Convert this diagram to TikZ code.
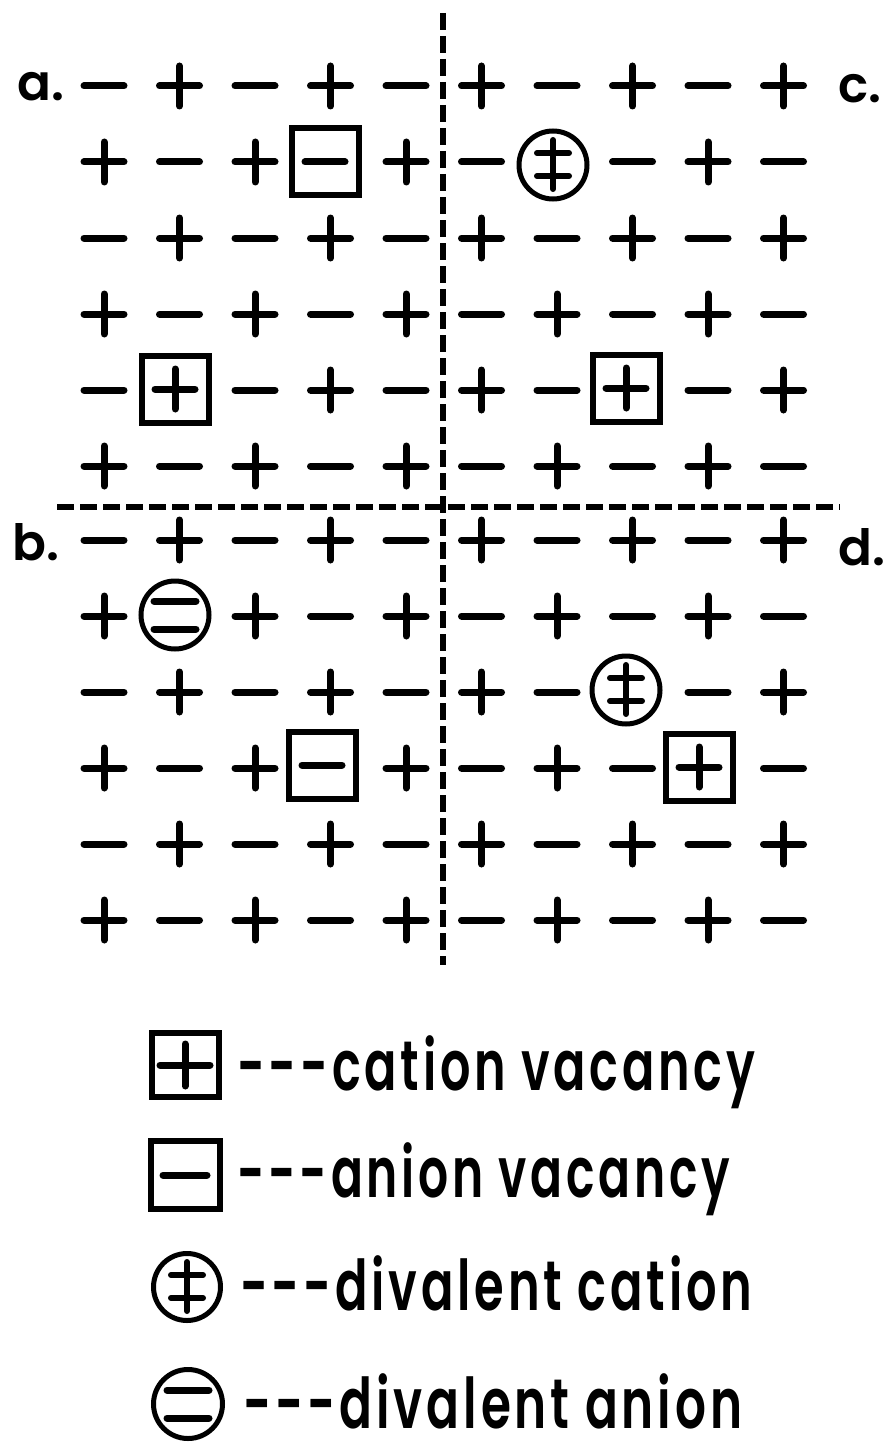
\documentclass[tikz,border=0pt]{standalone}
\usepackage{fontspec}
\setmainfont{Poppins}
\newfontfamily\legfont{Poppins}[UprightFont={* SemiBold}, LetterSpace=8]
\newfontfamily\labfont{Poppins}[UprightFont={* SemiBold}]
\usepackage{graphicx}
\tikzset{
  sign/.style={line width=7pt, line cap=round},
  plussign/.pic={\draw[sign] (-20,0) -- (20,0) (0,-20) -- (0,20);},
  minussign/.pic={\draw[sign] (-20,0) -- (20,0);},
  bigplus/.pic={\draw[sign] (-25,0) -- (25,0) (0,-21) -- (0,21);},
  bigminus/.pic={\draw[sign] (-22,0) -- (22,0);},
  dcation/.pic={\draw[sign, line width=6pt] (-16,-12) -- (16,-12) (-16,11) -- (16,11) (0,-25) -- (0,24);},
  danion/.pic={\draw[sign] (-21,-14) -- (21,-14) (-21,14) -- (21,14);},
  vacbox/.style={draw, rectangle, line width=6pt, minimum width=67pt, minimum height=67pt, inner sep=0pt},
  divcirc/.style={draw, circle, line width=5pt, minimum size=68pt, inner sep=0pt},
  divider/.style={line width=6pt, dash pattern=on 17pt off 6pt},
  lab/.style={anchor=base west, inner sep=0pt, font=\labfont\fontsize{50}{50}\selectfont},
  legtext/.style={anchor=base west, inner sep=0pt},
}
\newcommand\legline[2]{\resizebox{#1}{\height}{\legfont\fontsize{70}{70}\selectfont #2}}
\begin{document}
\begin{tikzpicture}[x=1pt, y=-1pt]
\useasboundingbox (0,0) rectangle (887,1442);
% lattice
\foreach \r in {0,...,11}{
  \foreach \c in {0,...,9}{
    \pgfmathsetmacro\xx{104+75.5*\c}
    \pgfmathsetmacro\yy{\r<6 ? 86+76*\r : 540+76*(\r-6)}
    \pgfmathtruncatemacro\kk{\r*10+\c}
    \pgfmathtruncatemacro\isdef{(\kk==13)||(\kk==41)||(\kk==16)||(\kk==47)||(\kk==71)||(\kk==93)||(\kk==87)||(\kk==98)}
    \pgfmathtruncatemacro\odd{mod(\r+\c,2)}
    \ifnum\isdef=0
      \ifnum\odd=1 \pic at (\xx,\yy) {plussign}; \else \pic at (\xx,\yy) {minussign}; \fi
    \fi
  }
}
% dividers
\coordinate (vtop) at (443,13);
\coordinate (vbot) at (443,965);
\coordinate (hl) at (57,507);
\coordinate (hr) at (840,507);
\draw[divider] (vtop) -- (vbot);
\draw[divider] (hl) -- (hr);
% defects
\node[vacbox] (av) at (325,162) {}; \pic at (av.center) {minussign};
\node[vacbox] (ac) at (175,389) {}; \pic at (ac.center) {plussign};
\node[divcirc] (cd) at (553,165) {}; \pic at (cd.center) {dcation};
\node[vacbox] (cc) at (626,388) {}; \pic at (cc.center) {plussign};
\node[divcirc] (bd) at (175,615) {}; \pic at (bd.center) {danion};
\node[vacbox] (bv) at (322,765) {}; \pic at (bv.center) {minussign};
\node[divcirc] (dd) at (626,690) {}; \pic at (dd.center) {dcation};
\node[vacbox] (dc) at (699,767) {}; \pic at (dc.center) {plussign};
% labels
\node[lab] (la) at (17,101) {a.};
\node[lab] (lc) at (838,103) {c.};
\node[lab] (lb) at (12,560) {b.};
\node[lab] (ld) at (838,565) {d.};
% legend
\node[vacbox, minimum width=67pt, minimum height=64pt] (k1) at (185,1065) {}; \pic at (k1.center) {bigplus};
\node[vacbox, minimum width=69pt, minimum height=68pt] (k2) at (185,1175) {}; \pic at (k2.center) {bigminus};
\node[divcirc, minimum size=67pt] (k3) at (187,1287) {}; \pic at (k3.center) {dcation};
\node[divcirc, minimum size=69pt] (k4) at (188,1404) {}; \pic at (k4.center) {danion};
\node[legtext] (t1) at (237,1090) {\legline{518pt}{-{}-{}-cation vacancy}};
\node[legtext] (t2) at (237,1197) {\legline{493pt}{-{}-{}-anion vacancy}};
\node[legtext] (t3) at (240,1310) {\legline{512pt}{-{}-{}-divalent cation}};
\node[legtext] (t4) at (243,1428) {\legline{499pt}{-{}-{}-divalent anion}};
\end{tikzpicture}
\end{document}
